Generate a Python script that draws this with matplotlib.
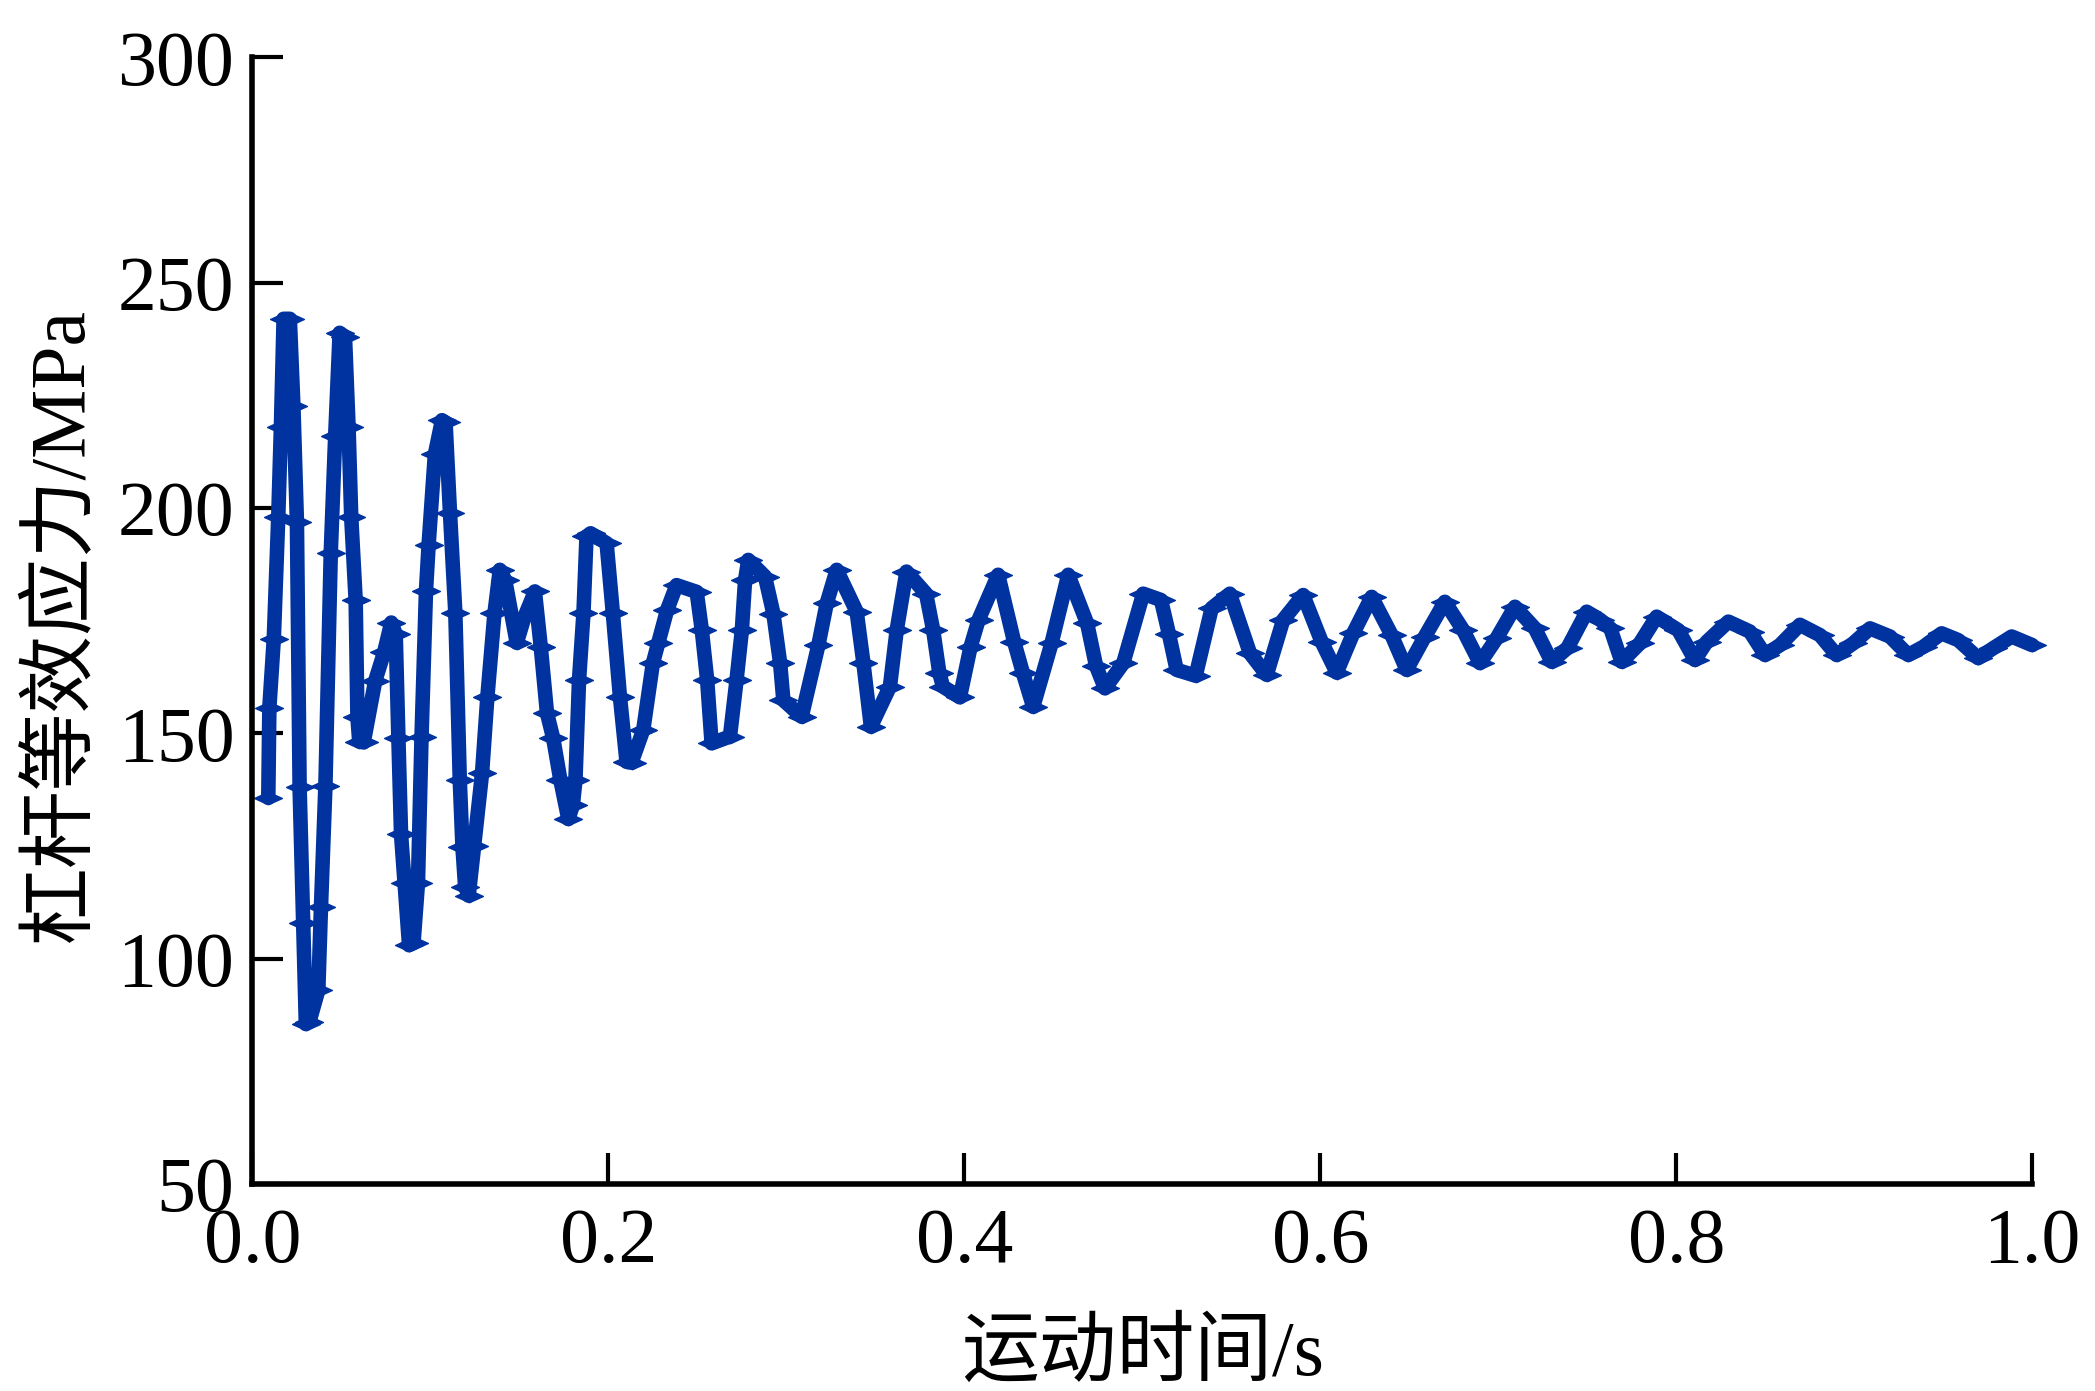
import matplotlib
matplotlib.use("Agg")
import matplotlib.pyplot as plt
from matplotlib.path import Path

# ---- data ----
time_s = [
    0.0089, 0.0095, 0.0120, 0.0145, 0.0160, 0.0175, 0.0210, 0.0230, 0.0250, 0.0265,
    0.0285, 0.0300, 0.0320, 0.0370, 0.0385, 0.0410, 0.0440, 0.0465, 0.0490, 0.0520,
    0.0540, 0.0555, 0.0580, 0.0590, 0.0600, 0.0625, 0.0690, 0.0740, 0.0780, 0.0805,
    0.0820, 0.0835, 0.0855, 0.0880, 0.0905, 0.0930, 0.0950, 0.0975, 0.0990, 0.1025,
    0.1065, 0.1085, 0.1110, 0.1140, 0.1165, 0.1180, 0.1195, 0.1215, 0.1245, 0.1290,
    0.1320, 0.1360, 0.1390, 0.1420, 0.1485, 0.1530, 0.1587, 0.1620, 0.1655, 0.1690,
    0.1730, 0.1775, 0.1800, 0.1815, 0.1835, 0.1860, 0.1877, 0.1900, 0.1990, 0.2025,
    0.2065, 0.2102, 0.2130, 0.2196, 0.2250, 0.2280, 0.2330, 0.2383, 0.2496, 0.2525,
    0.2555, 0.2580, 0.2683, 0.2720, 0.2750, 0.2768, 0.2786, 0.2880, 0.2927, 0.2965,
    0.2983, 0.3086, 0.3180, 0.3227, 0.3283, 0.3395, 0.3433, 0.3475, 0.3582, 0.3620,
    0.3675, 0.3785, 0.3825, 0.3860, 0.3880, 0.3975, 0.4035, 0.4080, 0.4190, 0.4280,
    0.4330, 0.4387, 0.4490, 0.4584, 0.4690, 0.4740, 0.4790, 0.4893, 0.5005, 0.5105,
    0.5150, 0.5193, 0.5300, 0.5390, 0.5492, 0.5605, 0.5699, 0.5792, 0.5904, 0.6008,
    0.6092, 0.6185, 0.6289, 0.6401, 0.6485, 0.6588, 0.6700, 0.6803, 0.6897, 0.6991,
    0.7094, 0.7206, 0.7300, 0.7390, 0.7497, 0.7573, 0.7630, 0.7693, 0.7796, 0.7890,
    0.8012, 0.8105, 0.8171, 0.8293, 0.8414, 0.8499, 0.8583, 0.8695, 0.8808, 0.8901,
    0.8995, 0.9089, 0.9201, 0.9304, 0.9388, 0.9491, 0.9585, 0.9697, 0.9781, 0.9885,
    1.0000,
]
stress_mpa = [
    135.7, 155.7, 171.0, 198.0, 218.0, 242.0, 242.0, 222.7, 196.8, 138.0,
    108.0, 85.5, 86.0, 93.0, 111.4, 138.4, 190.0, 216.0, 238.9, 238.0,
    218.0, 198.0, 179.5, 153.6, 148.2, 148.0, 161.7, 168.0, 174.6, 172.0,
    149.0, 127.6, 116.8, 103.0, 103.5, 116.8, 149.2, 181.6, 191.9, 211.9,
    219.5, 219.0, 198.9, 176.7, 139.6, 124.8, 116.0, 114.0, 124.9, 141.1,
    158.1, 176.7, 186.3, 184.0, 170.1, 176.0, 181.5, 169.2, 154.5, 148.9,
    139.7, 131.0, 134.0, 139.7, 161.8, 176.7, 193.7, 194.4, 192.2, 176.7,
    158.1, 143.7, 143.5, 150.8, 165.6, 170.0, 177.4, 182.9, 181.4, 172.9,
    161.8, 147.8, 149.3, 161.8, 172.9, 184.0, 188.5, 184.8, 176.6, 165.6,
    157.4, 153.7, 169.6, 178.9, 186.3, 177.0, 165.6, 151.5, 160.4, 172.9,
    185.9, 181.0, 172.9, 163.3, 160.4, 158.0, 169.2, 175.2, 185.2, 170.3,
    163.3, 155.9, 170.0, 185.2, 174.4, 165.0, 160.0, 165.6, 181.0, 179.6,
    172.0, 164.1, 162.8, 177.8, 181.0, 167.8, 163.0, 175.2, 180.7, 170.3,
    163.5, 172.2, 180.3, 171.8, 164.1, 171.5, 179.2, 172.9, 165.6, 171.1,
    178.1, 173.3, 165.9, 169.0, 177.0, 175.2, 173.3, 165.9, 170.0, 175.9,
    172.9, 166.3, 170.3, 174.8, 172.6, 167.4, 169.6, 174.1, 171.8, 167.4,
    170.0, 173.3, 171.5, 167.4, 169.2, 172.2, 170.7, 166.7, 168.9, 171.5,
    169.6,
]
x_ticks = [0.0, 0.2, 0.4, 0.6, 0.8, 1.0]
x_tick_labels = ["0.0", "0.2", "0.4", "0.6", "0.8", "1.0"]
y_ticks = [50, 100, 150, 200, 250, 300]
y_tick_labels = ["50", "100", "150", "200", "250", "300"]
x_label = "运动时间/s"
y_label = "杠杆等效应力/MPa"

LINE_COLOR = "#0033A0"
FONT = ["Liberation Serif", "Noto Sans CJK SC", "DejaVu Sans"]
plt.rcParams["font.family"] = FONT

fig = plt.figure(figsize=(20.95, 13.91), dpi=100)
ax = fig.add_axes([0.1205, 0.1488, 0.8495, 0.8099])

flat_diamond = Path([(-1, 0), (0, 0.45), (1, 0), (0, -0.45), (-1, 0)],
                    [Path.MOVETO, Path.LINETO, Path.LINETO, Path.LINETO, Path.CLOSEPOLY])

ax.plot(time_s, stress_mpa, color=LINE_COLOR, lw=10.5, solid_joinstyle="round",
        solid_capstyle="round",
        marker=flat_diamond, markersize=20, markerfacecolor=LINE_COLOR,
        markeredgecolor=LINE_COLOR, clip_on=False)

ax.set_xlim(0, 1.0)
ax.set_ylim(50, 300)
ax.set_xticks(x_ticks)
ax.set_xticklabels(x_tick_labels)
ax.set_yticks(y_ticks)
ax.set_yticklabels(y_tick_labels)

for side in ["top", "right"]:
    ax.spines[side].set_visible(False)
for side in ["left", "bottom"]:
    ax.spines[side].set_linewidth(4)
    ax.spines[side].set_color("black")

ax.tick_params(axis="both", direction="in", length=22, width=3, labelsize=56,
               colors="black")
ax.tick_params(axis="x", pad=17)
ax.tick_params(axis="y", pad=13)

ax.set_xlabel(x_label, fontsize=56, family=FONT)
ax.set_ylabel(y_label, fontsize=56, family=FONT)
ax.xaxis.set_label_coords(0.5, -0.12)
ax.yaxis.set_label_coords(-0.086, 0.497)

fig.savefig("out.png", dpi=100)
